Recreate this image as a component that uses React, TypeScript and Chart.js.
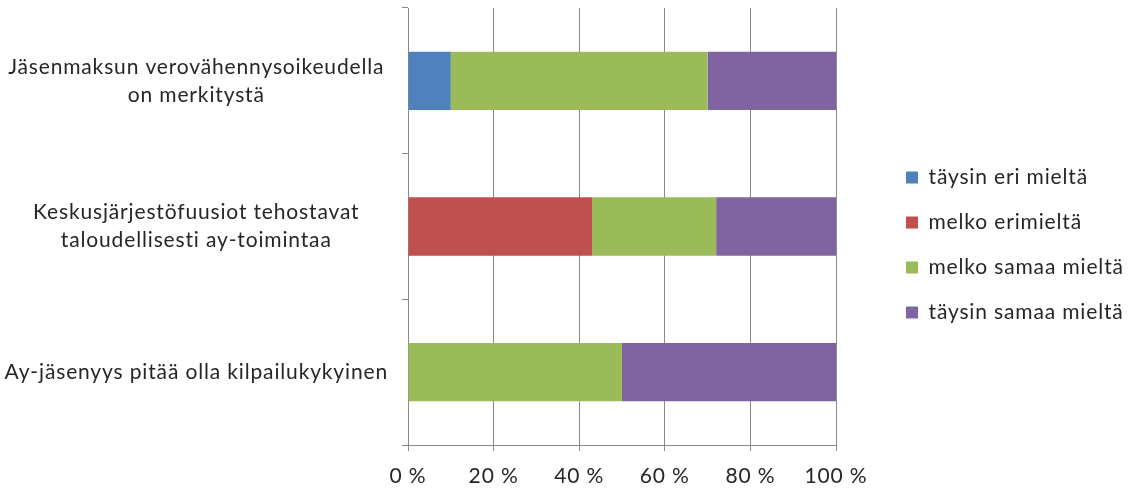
import React, { useEffect, useRef } from "react";
import { Chart, registerables } from "chart.js";

Chart.register(...registerables);

const categories: string[][] = [
  ["Jäsenmaksun verovähennysoikeudella", "on merkitystä"],
  ["Keskusjärjestöfuusiot tehostavat", "taloudellisesti ay-toimintaa"],
  ["Ay-jäsenyys pitää olla kilpailukykyinen"],
];

const seriesNames = ["täysin eri mieltä", "melko erimieltä", "melko samaa mieltä", "täysin samaa mieltä"];
const taysinEri = [10, 0, 0];
const melkoEri = [0, 43, 0];
const melkoSamaa = [60, 29, 50];
const taysinSamaa = [30, 28, 50];
const seriesColors = ["#4F81BD", "#C0504D", "#9BBB59", "#8064A2"];
const xTicks = [0, 20, 40, 60, 80, 100];

const W = 1131;
const H = 490;
const PLOT_LEFT = 408;
const PLOT_RIGHT = 836;
const PLOT_TOP = 8;
const PLOT_BOTTOM = 445;
const FONT = "Lato";
const FONT_SIZE = 21;
const LETTER_SPACING = "0.85px";
const TEXT = "#262626";
const GRID = "#8a8a8a";

const spacingPlugin = {
  id: "spacing",
  beforeInit(chart: any) {
    chart.ctx.letterSpacing = LETTER_SPACING;
  },
  beforeUpdate(chart: any) {
    chart.ctx.letterSpacing = LETTER_SPACING;
  },
  beforeDraw(chart: any) {
    chart.ctx.letterSpacing = LETTER_SPACING;
  },
};

const legendPlacer = {
  id: "legendPlacer",
  beforeLayout(chart: any) {
    const lg = chart.legend;
    if (lg && !lg.__patched) {
      const orig = lg.fit.bind(lg);
      lg.fit = function () {
        orig();
        this.width = W - PLOT_RIGHT;
      };
      lg.__patched = true;
    }
  },
  afterLayout(chart: any) {
    const lg = chart.legend;
    if (!lg) return;
    lg.left += 46;
    lg.right += 46;
    lg.top -= 4;
    lg.bottom -= 4;
  },
};

export default function App() {
  const ref = useRef<HTMLCanvasElement | null>(null);
  useEffect(() => {
    document.body.style.margin = "0";
    const canvas = ref.current;
    if (!canvas) return;
    const data = [taysinEri, melkoEri, melkoSamaa, taysinSamaa];
    const chart = new Chart(canvas, {
      type: "bar",
      data: {
        labels: categories,
        datasets: seriesNames.map((name, i) => ({
          label: name,
          data: data[i],
          backgroundColor: seriesColors[i],
          borderWidth: 0,
          barPercentage: 0.4,
          categoryPercentage: 1,
        })),
      },
      plugins: [spacingPlugin, legendPlacer],
      options: {
        indexAxis: "y",
        animation: false,
        responsive: false,
        layout: { padding: { top: PLOT_TOP, left: 0, right: 0, bottom: 0 } },
        plugins: {
          tooltip: { enabled: false },
          legend: {
            position: "right",
            align: "center",
            labels: {
              boxWidth: 12,
              boxHeight: 12,
              padding: 24,
              color: TEXT,
              font: { family: FONT, size: FONT_SIZE },
            },
          },
        },
        scales: {
          x: {
            stacked: true,
            min: 0,
            max: 100,
            afterFit(scale: any) {
              scale.height = H - PLOT_BOTTOM;
            },
            afterBuildTicks(scale: any) {
              scale.ticks = xTicks.map((v) => ({ value: v }));
            },
            grid: {
              color: GRID,
              lineWidth: 1,
              drawTicks: true,
              tickLength: 6,
            },
            border: { display: true, color: GRID, width: 1 },
            ticks: {
              color: TEXT,
              padding: 13,
              maxRotation: 0,
              font: { family: FONT, size: FONT_SIZE },
              callback: (v: any) => v + " %",
            },
          },
          y: {
            stacked: true,
            afterFit(scale: any) {
              scale.width = PLOT_LEFT;
              scale.paddingTop = 0;
              scale.paddingBottom = 0;
            },
            grid: {
              color: GRID,
              drawOnChartArea: false,
              drawTicks: true,
              tickLength: 6,
            },
            border: { display: true, color: GRID, width: 1 },
            ticks: {
              color: TEXT,
              padding: 14,
              crossAlign: "center",
              font: { family: FONT, size: FONT_SIZE, lineHeight: 1.33 },
            },
          },
        },
      },
    } as any);
    return () => chart.destroy();
  }, []);
  return (
    <div style={{ width: W, height: H }}>
      <canvas ref={ref} width={W} height={H} style={{ width: W, height: H, display: "block" }} />
    </div>
  );
}
